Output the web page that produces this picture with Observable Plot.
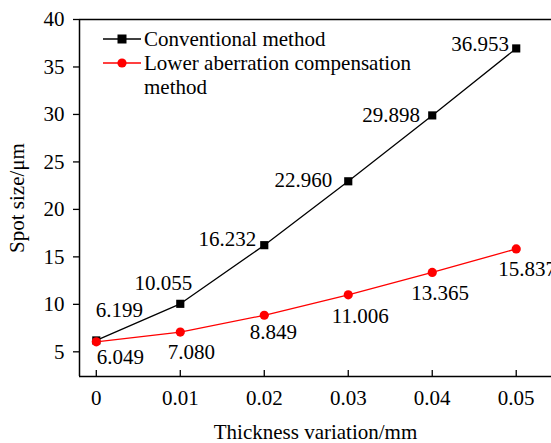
<!DOCTYPE html>
<html>
<head>
<meta charset="utf-8">
<script src="https://cdn.jsdelivr.net/npm/d3@7"></script>
<script src="https://cdn.jsdelivr.net/npm/@observablehq/plot@0.6"></script>
</head>
<body style="margin:0;padding:0;background:#fff;font-family:'Liberation Serif'">
<div id="wrap" style="position:relative;width:551px;height:443px;overflow:hidden;font-family:'Liberation Serif'"></div>
<script>
// ---- data ----
const thickness = [0, 0.01, 0.02, 0.03, 0.04, 0.05];
const conventional = [6.199, 10.055, 16.232, 22.960, 29.898, 36.953];
const lowerAberration = [6.049, 7.080, 8.849, 11.006, 13.365, 15.837];
const seriesNames = ["Conventional method", "Lower aberration compensation", "method"];
const xTicks = [0, 0.01, 0.02, 0.03, 0.04, 0.05];
const xTickLabels = ["0", "0.01", "0.02", "0.03", "0.04", "0.05"];
const yTicks = [5, 10, 15, 20, 25, 30, 35, 40];
const xDomain = [-0.002, 0.0542];
const yDomain = [2.4, 40];

const FONT = "Liberation Serif";
const FS = 21;

const conv = thickness.map((x, i) => ({x, y: conventional[i]}));
const low = thickness.map((x, i) => ({x, y: lowerAberration[i]}));

// label offsets (layout only)
const convOff = [[23, -30], [-17, -21], [-37, -6], [-45, -1], [-41, 0], [-36, -4]];
const lowOff = [[24, 15], [11, 20], [9, 17], [12, 21], [8, 21], [11, 20]];

const labelMarks = [];
conv.forEach((d, i) => labelMarks.push(Plot.text([d], {x: "x", y: "y", text: dd => dd.y.toFixed(3), dx: convOff[i][0], dy: convOff[i][1], fill: "#000", fontSize: FS, fontFamily: FONT})));
low.forEach((d, i) => labelMarks.push(Plot.text([d], {x: "x", y: "y", text: dd => dd.y.toFixed(3), dx: lowOff[i][0], dy: lowOff[i][1], fill: "#000", fontSize: FS, fontFamily: FONT})));

const chart = Plot.plot({
  width: 551,
  height: 443,
  marginLeft: 79,
  marginRight: 0,
  marginTop: 19,
  marginBottom: 67,
  style: {fontFamily: FONT, fontSize: FS + "px", color: "#000", background: "#fff"},
  x: {domain: xDomain},
  y: {domain: yDomain},
  marks: [
    Plot.ruleX([xDomain[0]], {stroke: "#000", strokeWidth: 1.5}),
    Plot.ruleY([yDomain[0]], {stroke: "#000", strokeWidth: 1.5}),
    Plot.ruleY([yDomain[1]], {stroke: "#000", strokeWidth: 1.5}),
    Plot.axisY({ticks: yTicks, tickSize: 6, tickPadding: 9, label: "Spot size/μm", labelAnchor: "center", labelArrow: "none", labelOffset: 70, fontSize: FS, fontFamily: FONT, strokeWidth: 1.3}),
    Plot.axisX({ticks: xTicks, tickSize: 0, tickPadding: 14, tickFormat: d => xTickLabels[xTicks.indexOf(d)], label: null, fontSize: FS, fontFamily: FONT}),
    Plot.axisX({ticks: xTicks, tickSize: -6, text: null, label: null, strokeWidth: 1.3}),
    Plot.axisX({ticks: [], label: "Thickness variation/mm", labelAnchor: "center", labelArrow: "none", labelOffset: 62, fontSize: FS, fontFamily: FONT}),
    Plot.line(conv, {x: "x", y: "y", stroke: "#000", strokeWidth: 1.3}),
    Plot.line(low, {x: "x", y: "y", stroke: "#ff0000", strokeWidth: 1.3}),
    Plot.dot(conv, {x: "x", y: "y", symbol: "square", r: 4.6, fill: "#000"}),
    Plot.dot(low, {x: "x", y: "y", symbol: "circle", r: 4.6, fill: "#ff0000"}),
    ...labelMarks
  ]
});
chart.style.fontFamily = FONT;
const wrap = document.getElementById("wrap");
wrap.appendChild(chart);

// legend
const legend = document.createElement("div");
legend.style.cssText = `position:absolute;left:103px;top:27px;font-family:'${FONT}';font-size:${FS}px;line-height:24px;color:#000;`;
const sym = (stroke, shape) => `<svg width="38" height="24" style="flex:none"><line x1="0" x2="38" y1="12" y2="12" stroke="${stroke}" stroke-width="1.3"/>${shape}</svg>`;
legend.innerHTML = `
<div style="display:flex">${sym("#000", '<rect x="14.5" y="7.5" width="9" height="9" fill="#000"/>')}<span style="margin-left:3px">${seriesNames[0]}</span></div>
<div style="display:flex">${sym("#ff0000", '<circle cx="19" cy="12" r="4.6" fill="#ff0000"/>')}<span style="margin-left:3px">${seriesNames[1]}<br>${seriesNames[2]}</span></div>`;
wrap.appendChild(legend);
</script>
</body>
</html>
